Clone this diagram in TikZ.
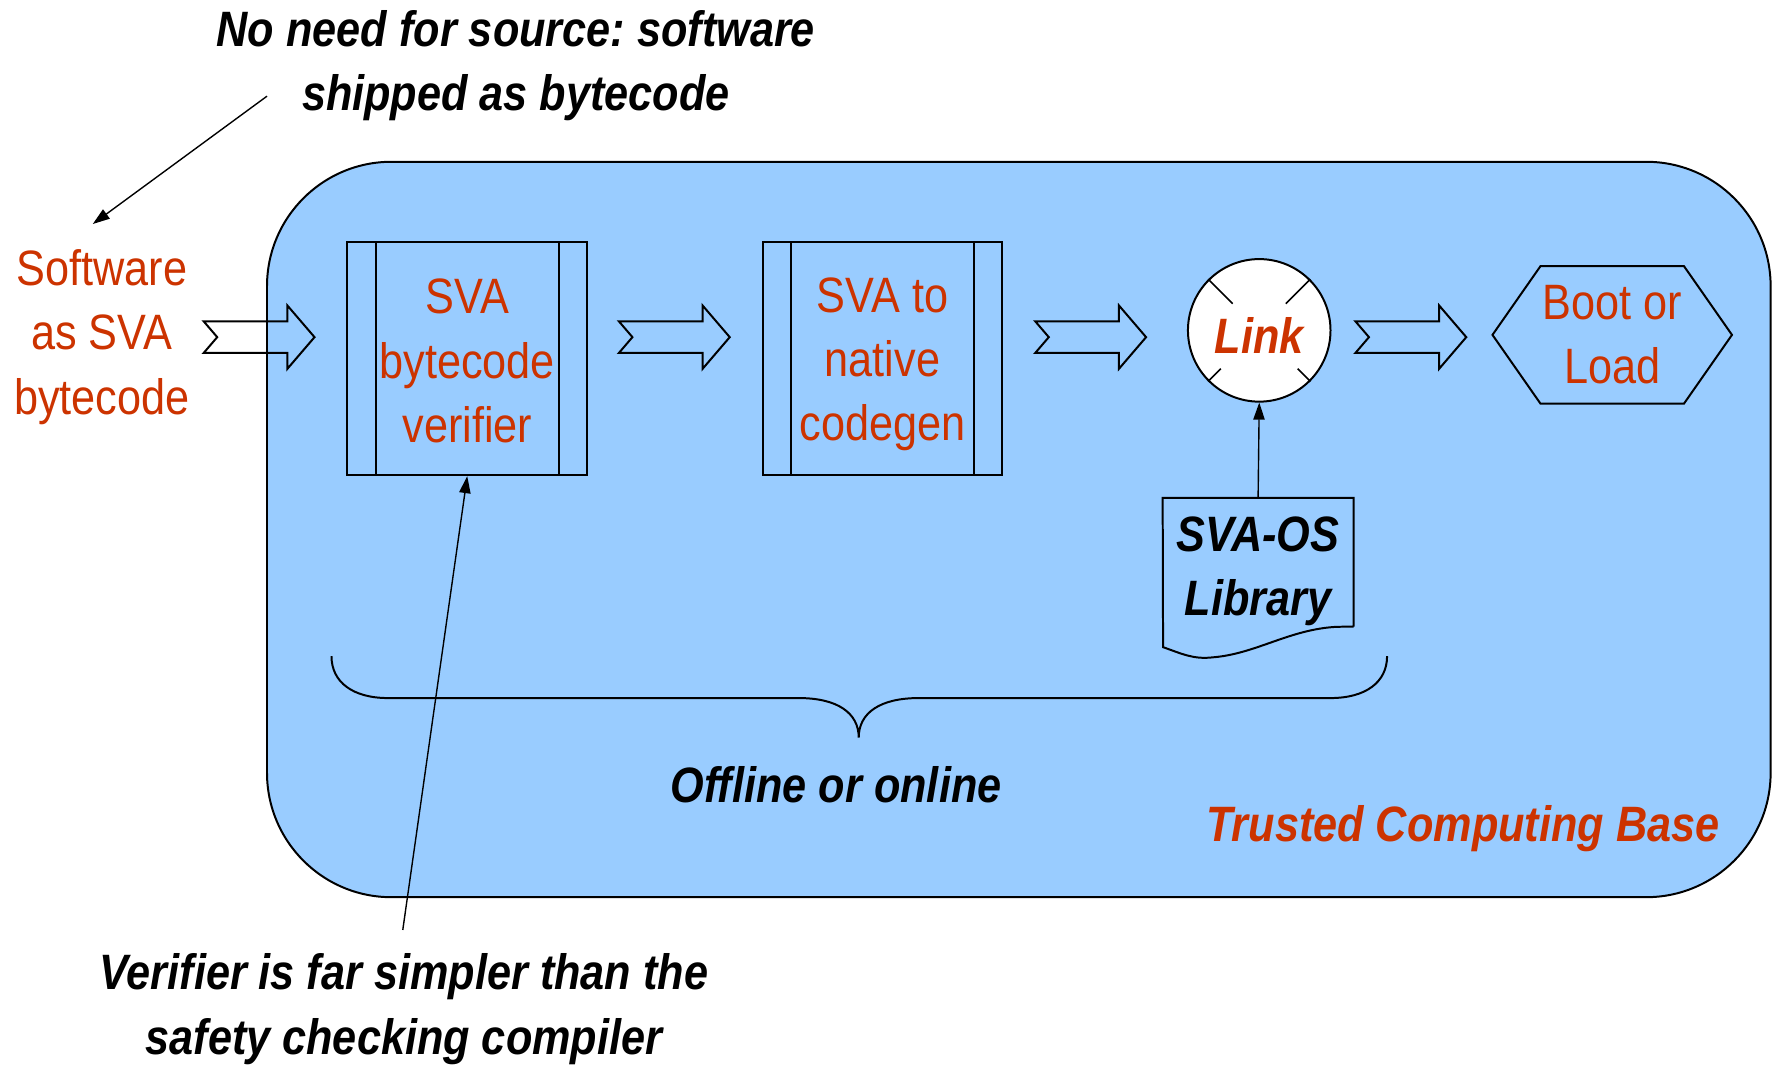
\documentclass[tikz,border=0pt]{standalone}
\usepackage{fontspec}
\setmainfont{Liberation Sans}[FakeStretch=0.87]
\usepackage{tikz}
\usetikzlibrary{
  arrows.meta,
  calc
}
\frenchspacing
\definecolor{tcbblue}{HTML}{99CCFF}
\definecolor{svared}{HTML}{CC3300}
\tikzset{
  txt/.style={font=\fontsize{25pt}{32.4pt}\selectfont, align=center, inner sep=0pt},
  redtxt/.style={txt, text=svared},
  bitxt/.style={txt, font=\fontsize{25pt}{32.4pt}\selectfont\bfseries\itshape},
  edge/.style={line width=1pt},
  tcbbox/.style={draw, edge, fill=tcbblue, rounded corners=22mm,
    minimum width=265.8mm, minimum height=130mm},
  procbox/.style={draw, edge, minimum width=42.4mm, minimum height=41.2mm},
  linkcirc/.style={circle, draw, edge, fill=white, minimum size=25.2mm},
  blockarr/.style={edge, line join=miter},
  thinarr/.style={-{Triangle[length=3mm, width=2mm]}, line width=0.7pt},
}

\begin{document}
\begin{tikzpicture}[x=0.2mm, y=-0.2mm]
\useasboundingbox (0,0) rectangle (1568,941);

% trusted computing base
\node[tcbbox] (tcb) at (900.5,468) {};
\node[bitxt, text=svared] (tcblabel) at (1293,732) {Trusted Computing Base};

% input and notes
\node[redtxt] (sw) at (90,298) {Software\\as SVA\\bytecode};
\node[bitxt] (srcnote) at (456,58) {No need for source: software\\shipped as bytecode};
\node[bitxt] (vnote) at (357,892) {Verifier is far simpler than the\\safety checking compiler};

% pipeline stages
\node[procbox] (verif) at (413,317) {};
\node[redtxt] (veriftxt) at (413,319) {SVA\\bytecode\\verifier};
\node[procbox] (codegen) at (780,317) {};
\node[redtxt] (codegentxt) at (780,322) {SVA to\\native\\codegen};
\foreach \n in {verif, codegen}{
  \draw[edge] ([xshift=5.2mm]\n.north west) -- ([xshift=5.2mm]\n.south west);
  \draw[edge] ([xshift=-5.2mm]\n.north east) -- ([xshift=-5.2mm]\n.south east);
}

\node[linkcirc, bitxt, text=svared, text height=23.5pt] (link) at (1113,292) {Link};
\foreach \a/\f in {45/0.52, 135/0.52, 225/0.75, 315/0.75}
  \draw[line width=0.8pt] (link.\a) -- ($(link.center)!\f!(link.\a)$);

\node[redtxt, minimum width=42.2mm, minimum height=24.2mm] (boot) at (1425,296) {Boot or\\Load};
\draw[edge] (boot.west) -- ([xshift=8.5mm]boot.north west) -- ([xshift=-8.5mm]boot.north east)
  -- (boot.east) -- ([xshift=-8.5mm]boot.south east) -- ([xshift=8.5mm]boot.south west) -- cycle;

% library (document shape)
\node[minimum width=33.6mm, minimum height=22.6mm] (lib) at (1112,497) {};
\node[bitxt] (libtxt) at (1112,505) {SVA-OS\\Library};
\draw[edge] (lib.south east) -- (lib.north east) -- (lib.north west) -- (1028,572)
  .. controls (1045,578) and (1055,583) .. (1072,581)
  .. controls (1110,578) and (1140,556) .. (1182,554) -- (lib.south east);
\draw[thinarr] (lib.north) -- (link.south);

% block arrows between stages
\foreach \X in {180, 547, 915, 1198}{
  \draw[blockarr] (\X,284) -- ({\X+74},284) -- ({\X+74},270) -- ({\X+98},298)
    -- ({\X+74},326) -- ({\X+74},312) -- (\X,312) -- ({\X+12},298) -- cycle;
}

% brace
\draw[edge] (293,580) .. controls (293,603) and (312,617) .. (343,617) -- (706,617)
  .. controls (740,617) and (759,630) .. (759,652)
  .. controls (759,630) and (778,617) .. (812,617) -- (1176,617)
  .. controls (1207,617) and (1226,603) .. (1226,580);
\node[bitxt] (offline) at (739,694) {Offline or online};

% annotation arrows
\coordinate (srctail) at (236,85);
\coordinate (swtip) at (82,198);
\draw[thinarr] (srctail) -- (swtip);
\coordinate (vtail) at (356,822);
\draw[thinarr] (vtail) -- (verif.south);

\end{tikzpicture}
\end{document}
